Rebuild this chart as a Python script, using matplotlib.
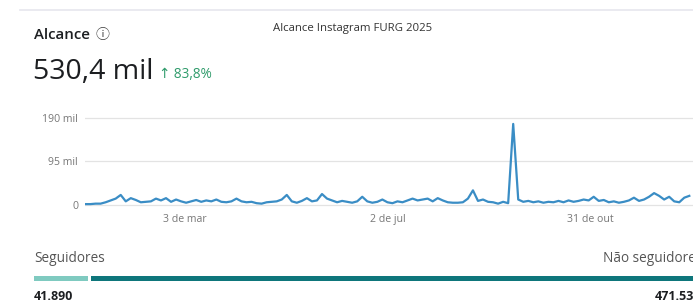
import numpy as np
import pandas as pd
import matplotlib
matplotlib.use("Agg")
import matplotlib.pyplot as plt

# alcance diario (mil), um ponto a cada 3 dias a partir de 3 de janeiro de 2025
alcance = [2, 2, 3, 3, 6, 10, 14, 22, 8, 15, 11, 6, 7, 8, 14, 10, 15, 7, 12, 8, 5,
           8, 11, 7, 10, 8, 12, 7, 6, 8, 14, 8, 6, 7, 4, 3, 6, 7, 8, 12, 22, 8,
           5, 9, 15, 8, 10, 24, 14, 10, 6, 9, 7, 5, 8, 18, 8, 5, 7, 12, 6, 4, 8,
           6, 10, 14, 10, 12, 14, 8, 15, 10, 6, 5, 5, 6, 14, 32, 9, 12, 7, 6, 3, 7, 4,
           177, 12, 7, 9, 6, 8, 5, 7, 6, 9, 6, 10, 7, 9, 12, 10, 18, 9, 11, 6,
           8, 5, 7, 10, 16, 9, 12, 18, 26, 20, 12, 18, 8, 6, 16, 20]
datas = pd.date_range("2025-01-03", periods=len(alcance), freq="3D")

yticks = [0, 95, 190]
ylabels = ["0", "95 mil", "190 mil"]
xticks = pd.to_datetime(["2025-03-03", "2025-07-02", "2025-10-31"])
xlabels = ["3 de mar", "2 de jul", "31 de out"]

seguidores = 41890
nao_seguidores = 471539

W, H = 693, 304
plt.rcParams["font.family"] = ["Open Sans", "DejaVu Sans"]
fig = plt.figure(figsize=(W / 100, H / 100), dpi=100)
fig.patch.set_facecolor("white")


def px(x, y):
    return x / W, 1 - y / H


# linha separadora no topo
fig.add_artist(plt.Line2D([20 / W, 1], [1 - 10 / H] * 2, color="#e6e6ee", lw=1.2))

fig.text(*px(353, 28), "Alcance Instagram FURG 2025", ha="center", va="center",
         fontsize=8.2, color="#333333")
fig.text(*px(34, 35), "Alcance", ha="left", va="center", fontsize=10.8,
         fontweight="semibold", color="#1c1e21")
fig.text(*px(102, 35), "ⓘ", ha="center", va="center", fontsize=10,
         color="#444444", family=["Noto Sans CJK JP", "DejaVu Sans"])
fig.text(*px(33, 72), "530,4 mil", ha="left", va="center", fontsize=20.5,
         fontweight="medium", color="#1c1e21")
fig.text(*px(159, 75), "↑ 83,8%", ha="left", va="center", fontsize=9.8,
         color="#2f9b6b", family=["Open Sans", "DejaVu Sans"])

# grafico de linha
ax = fig.add_axes([85 / W, 1 - 208 / H, 1 - 85 / W, 96 / H])
ax.plot(datas, alcance, color="#3a8dc5", lw=1.6, solid_joinstyle="round", zorder=3)
ax.set_xlim(pd.Timestamp("2025-01-03") - pd.Timedelta(days=0.3),
            pd.Timestamp("2025-01-01") + pd.Timedelta(days=364.2))
ax.set_ylim(-6.5, 203)
ax.set_yticks(yticks)
ax.set_yticklabels(ylabels)
ax.set_xticks(xticks)
ax.set_xticklabels(xlabels)
ax.grid(axis="y", color="#e3e3e3", lw=0.9)
ax.tick_params(length=0, labelsize=7.6, labelcolor="#777777")
ax.tick_params(axis="y", pad=5)
ax.tick_params(axis="x", pad=4)
for s in ax.spines.values():
    s.set_visible(False)

# barra seguidores / nao seguidores
fig.text(*px(34, 259), "Seguidores", ha="left", va="center", fontsize=9.8,
         color="#555555")
fig.text(*px(702, 259), "Não seguidores", ha="right", va="center", fontsize=9.8,
         color="#555555")
bx = fig.add_axes([34 / W, 1 - 281 / H, 665 / W, 5 / H])
total = seguidores + nao_seguidores
gap = total * 0.004
bx.barh(0, seguidores, color="#7fcac0", height=1)
bx.barh(0, nao_seguidores - gap, left=seguidores + gap, color="#0e767b", height=1)
bx.set_xlim(0, total)
bx.set_ylim(-0.5, 0.5)
bx.axis("off")
fig.text(*px(34, 296), f"{seguidores:,}".replace(",", "."), ha="left", va="center",
         fontsize=9, fontweight="bold", color="#1c1e21")
fig.text(*px(655, 296), f"{nao_seguidores:,}".replace(",", "."), ha="left",
         va="center", fontsize=9, fontweight="bold", color="#1c1e21")

fig.savefig("out.png", dpi=100)
